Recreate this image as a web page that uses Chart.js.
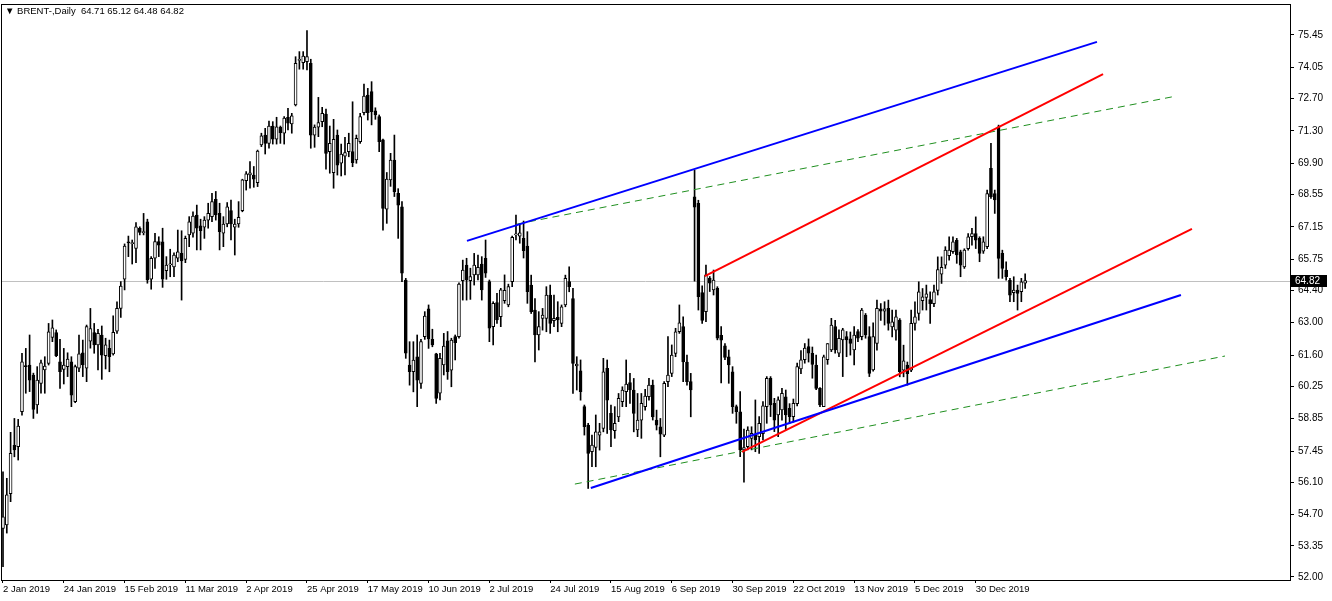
<!DOCTYPE html>
<html>
<head>
<meta charset="utf-8">
<script src="https://cdn.jsdelivr.net/npm/chart.js@4.4.1/dist/chart.umd.min.js"></script>
<style>
  html, body { margin: 0; padding: 0; background: #fff; }
  #wrap { width: 1332px; height: 601px; }
</style>
</head>
<body>
<div id="wrap"><canvas id="brent"></canvas></div>
<script>
// ---------------- data (BRENT-, Daily, 2 Jan 2019 - 17 Jan 2020) ----------------
const opens = [
  54.10,54.25,55.60,57.70,57.64,59.15,61.15,61.17,60.74,59.44, 60.38,60.96,61.24,62.37,62.57,61.31,60.98,61.10,61.31,59.58,
  61.03,61.70,61.03,62.20,62.57,62.04,62.47,61.57,61.89,61.65, 62.64,63.62,64.88,66.50,66.42,66.22,67.09,66.90,67.37,64.88,
  65.79,66.51,66.50,65.25,65.50,65.42,65.79,66.00,65.74,66.80, 66.87,67.66,67.19,67.13,67.44,67.59,68.34,67.73,66.87,67.27,
  67.85,67.13,67.27,67.85,69.15,69.39,69.39,69.06,70.69,71.12, 70.76,71.51,70.94,71.46,71.20,71.89,71.60,72.42,74.35,74.25,
  74.30,74.22,71.12,71.46,71.70,72.03,70.40,69.49,71.12,69.90, 70.21,70.40,70.40,70.04,70.83,72.09,72.85,73.00,72.17,71.92,
  70.91,67.91,69.18,70.04,68.60,68.02,64.85,61.17,60.88,61.53, 60.38,62.40,63.60,62.28,61.65,59.95,61.17,62.22,60.95,62.40,
  62.40,64.82,65.50,64.82,65.07,65.07,65.54,65.79,64.78,62.83, 63.87,63.26,63.95,63.77,64.78,66.80,66.75,66.65,66.32,64.63,
  63.55,62.47,63.19,63.19,64.20,63.09,63.23,62.97,63.77,64.78, 64.05,61.13,60.92,59.37,58.57,57.42,57.61,58.14,58.43,61.03,
  59.08,58.33,58.93,59.58,60.02,60.41,60.09,58.36,58.79,59.37, 59.80,60.30,58.79,58.50,58.14,60.45,60.81,61.67,62.61,62.83,
  61.30,60.45,68.45,68.17,64.30,63.48,64.92,64.42,64.49,62.45, 62.00,61.53,60.88,59.37,59.15,57.50,57.64,58.00,58.14,58.07,
  58.20,59.37,60.60,59.51,59.01,59.23,59.80,59.30,58.94,59.50, 61.00,61.40,61.97,61.68,61.17,60.16,59.37,61.40,61.82,62.83,
  61.68,62.26,62.40,62.30,61.82,62.62,62.40,63.33,62.40,60.96, 62.10,63.60,63.50,63.62,62.82,62.68,63.11,60.95,61.17,60.95,
  62.97,63.40,63.95,64.10,64.00,63.83,64.40,65.10,65.49,65.90, 66.07,66.57,66.07,65.42,66.21,66.72,66.86,66.65,66.10,66.29,
  69.68,68.59,71.48,66.00,65.28,64.84,64.30,64.41,64.34,64.71
];
const highs = [
  56.55,56.27,58.26,58.86,58.82,61.68,61.89,62.47,60.82,61.10, 61.39,61.53,62.97,63.12,62.69,62.28,61.89,61.70,61.53,61.17,
  62.47,62.25,62.90,63.62,62.97,62.72,62.86,62.33,62.25,63.30, 63.91,64.78,66.41,66.75,66.58,67.33,67.15,67.73,67.48,65.86,
  66.87,66.72,67.09,65.86,66.18,66.03,67.01,66.98,66.75,67.59, 67.80,68.09,67.48,67.59,68.17,68.60,68.68,68.17,67.59,68.20,
  68.31,67.48,68.24,69.21,69.54,69.97,69.76,70.47,71.20,71.41, 71.73,71.70,71.89,71.51,71.92,72.28,72.06,74.51,74.73,74.73,
  75.64,74.40,71.56,72.75,72.32,72.24,71.51,71.80,71.34,70.73, 71.02,71.20,72.56,71.12,72.06,73.33,73.14,73.43,72.30,71.99,
  70.95,69.50,70.33,71.12,68.80,68.24,64.92,62.18,62.18,62.47, 62.28,63.48,63.77,62.72,61.68,61.68,62.54,62.62,62.33,62.47,
  64.73,65.71,65.79,65.36,66.00,65.93,65.86,66.58,64.85,63.91, 64.27,64.49,65.07,64.67,66.75,67.66,67.30,67.40,66.94,65.06,
  64.05,63.48,63.62,64.56,64.63,64.20,63.91,63.77,65.06,65.42, 64.49,61.53,61.39,59.44,58.65,58.14,59.01,58.65,61.46,61.39,
  59.44,59.37,59.94,60.23,61.39,60.81,60.59,59.94,59.94,60.12, 60.59,60.52,59.22,58.86,60.45,62.40,62.04,62.76,63.77,63.26,
  61.60,60.81,69.60,68.30,64.60,65.50,65.00,65.28,64.56,62.83, 62.10,61.82,61.10,59.44,60.02,58.40,58.50,58.50,59.66,58.94,
  59.59,60.67,60.67,59.73,59.80,60.16,60.09,59.50,59.70,61.25, 61.80,62.10,62.30,61.95,61.60,60.20,61.60,62.10,63.19,63.10,
  62.69,62.76,62.62,62.60,62.83,62.70,63.62,63.40,62.83,63.00, 63.98,63.83,63.91,63.98,63.55,63.55,63.18,62.03,61.30,63.55,
  63.91,64.77,64.48,64.63,64.34,64.63,65.85,65.85,66.29,66.72, 66.72,66.65,66.14,66.20,66.86,67.08,67.58,66.72,66.72,68.74,
  70.76,68.74,71.55,66.14,65.64,64.92,64.99,64.63,64.92,65.12
];
const lows = [
  52.45,53.90,55.26,57.20,57.06,59.00,59.95,60.02,58.86,59.08, 59.95,59.95,61.17,62.18,61.53,60.16,60.35,60.67,59.37,59.54,
  60.88,60.67,60.45,61.90,61.68,60.96,60.55,61.00,60.88,61.60, 62.54,63.23,64.42,65.86,65.54,65.60,66.80,66.80,64.71,64.45,
  65.35,65.86,64.53,64.88,64.99,64.99,65.64,63.98,65.60,66.29, 66.70,66.15,66.15,66.65,67.09,67.37,67.44,66.15,66.29,67.15,
  66.58,65.93,67.13,67.80,68.74,68.82,68.86,68.89,70.62,70.30, 70.55,70.73,70.73,70.76,70.73,71.34,71.20,72.38,73.97,73.97,
  73.94,70.55,70.59,71.05,71.48,69.64,69.47,68.82,69.39,69.35, 69.39,70.18,69.75,69.90,70.76,71.99,71.77,71.56,71.80,70.40,
  67.01,67.30,68.90,68.46,66.65,64.78,61.46,60.30,60.01,59.37, 60.16,62.28,61.89,61.96,59.51,59.66,60.74,60.55,60.23,61.39,
  62.33,63.98,63.98,64.01,64.63,64.85,63.98,64.96,62.18,62.04, 62.97,62.83,63.84,63.69,64.56,66.58,66.44,65.80,63.84,63.40,
  61.31,61.82,62.68,62.61,62.54,62.83,62.61,62.83,63.69,64.34, 59.94,60.09,59.65,58.14,55.83,56.77,56.77,57.49,58.28,58.21,
  57.64,58.00,58.72,59.37,59.37,59.51,58.28,58.07,58.00,59.22, 59.65,58.79,58.36,57.20,58.07,60.23,60.67,61.53,62.54,60.45,
  60.30,58.93,64.80,63.55,62.97,63.05,64.35,64.20,62.26,60.40, 61.40,60.38,59.08,58.65,57.21,56.10,57.50,57.50,57.42,57.35,
  57.93,58.65,58.94,58.29,58.07,58.79,58.36,58.65,58.70,59.40, 60.80,61.25,61.30,60.60,60.10,59.37,59.37,61.20,61.75,61.68,
  61.53,60.67,61.53,61.60,61.17,62.18,62.26,62.33,60.67,60.90, 61.81,63.10,62.90,62.68,62.39,62.25,60.66,60.66,60.30,60.88,
  62.68,63.11,63.55,63.55,62.97,63.69,64.20,64.70,65.35,65.71, 66.00,65.57,64.99,65.35,66.14,66.36,66.21,65.64,66.00,66.21,
  68.38,67.73,64.92,64.92,64.84,63.91,63.91,63.55,63.91,64.48
];
const closes = [
  54.60,55.55,57.35,57.50,58.53,61.31,61.10,60.52,59.25,60.52, 61.27,61.13,62.61,62.78,61.57,60.88,61.17,61.43,59.87,61.10,
  61.65,61.17,62.83,62.75,62.04,62.54,61.60,62.04,61.53,62.59, 63.62,64.59,66.32,66.45,66.47,67.15,66.91,66.93,64.85,65.79,
  66.51,66.36,64.88,65.50,65.55,65.93,66.07,65.68,66.65,67.37, 67.62,67.09,66.98,67.44,67.73,68.24,67.66,66.94,67.27,68.02,
  67.27,67.27,67.56,69.18,69.44,69.49,69.21,70.43,71.09,70.76, 71.51,70.94,71.48,71.22,71.85,71.63,71.95,74.22,74.40,74.54,
  74.51,71.12,71.46,71.66,72.06,70.33,70.76,70.94,69.82,70.30, 70.36,70.76,69.93,70.98,71.92,72.81,72.09,72.13,71.99,70.83,
  67.95,69.21,70.04,68.67,68.09,65.14,61.68,60.88,61.39,60.52, 62.18,63.29,62.30,62.04,59.73,61.46,61.99,60.88,62.25,62.14,
  64.67,65.28,64.85,65.00,65.50,65.40,64.42,65.14,62.76,63.84, 63.12,64.42,64.40,64.56,66.69,66.84,66.89,66.12,64.34,63.48,
  62.47,62.83,63.33,64.20,62.97,63.19,63.12,63.69,64.92,64.56, 61.24,61.21,60.02,58.50,57.35,57.71,58.28,58.28,60.88,59.65,
  58.36,58.65,59.73,60.09,60.35,60.09,59.08,58.79,59.51,59.83, 60.30,58.93,58.57,58.18,60.38,60.74,61.60,62.61,63.00,61.31,
  60.45,60.09,68.00,64.13,63.10,65.07,64.71,64.85,62.33,62.25, 61.50,61.17,59.37,59.15,57.50,57.60,58.36,58.22,57.93,58.65,
  59.40,60.60,59.44,58.79,59.66,59.95,59.01,58.94,59.51,61.10, 61.40,61.90,61.68,61.20,60.16,59.44,61.53,62.10,62.90,61.82,
  62.33,62.69,62.26,62.10,62.47,62.33,63.55,62.47,60.81,62.40, 63.62,63.50,63.60,62.97,63.04,63.26,60.88,61.35,60.80,62.97,
  63.26,64.34,64.12,64.25,63.83,64.34,65.30,65.40,66.14,66.14, 66.50,65.93,65.49,66.14,66.72,66.86,66.57,66.00,66.50,68.59,
  68.45,68.31,65.78,65.35,64.99,64.19,64.41,64.27,64.77,64.82
];

// time axis: a date label every 16 bars
const dateLabels = ["2 Jan 2019", "24 Jan 2019", "15 Feb 2019", "11 Mar 2019", "2 Apr 2019", "25 Apr 2019",
  "17 May 2019", "10 Jun 2019", "2 Jul 2019", "24 Jul 2019", "15 Aug 2019", "6 Sep 2019", "30 Sep 2019",
  "22 Oct 2019", "13 Nov 2019", "5 Dec 2019", "30 Dec 2019"];
const barsPerLabel = 16;

// price axis labels
const priceLabels = [75.45, 74.05, 72.70, 71.30, 69.90, 68.55, 67.15, 65.75, 64.40, 63.00,
  61.60, 60.25, 58.85, 57.45, 56.10, 54.70, 53.35, 52.00];

// trend lines: [bar1, price1, bar2, price2]
const blueLines = [[122.1, 66.54, 287.9, 75.15], [154.7, 55.85, 310.0, 64.20]];
const redLines = [[184.7, 65.02, 289.5, 73.76], [194.5, 57.41, 312.9, 67.06]];
const greenLines = [[135.3, 67.27, 307.6, 72.77], [150.5, 56.02, 321.6, 61.56]];

// ---------------------------------------------------------------------------------
const FONT = { family: '"Liberation Sans", Arial, sans-serif', size: 10 };
const SMALL = { family: '"Liberation Sans", Arial, sans-serif', size: 9.5 };
const last = closes.length - 1;

const bodies = opens.map((o, i) => ({ x: i, y: [o, closes[i]] }));
const wicks = lows.map((l, i) => ({ x: i, y: [l, highs[i]] }));

function trend(seg, color, width, dash) {
  return {
    type: 'line',
    data: [{ x: seg[0], y: seg[1] }, { x: seg[2], y: seg[3] }],
    borderColor: color,
    borderWidth: width,
    borderDash: dash || [],
    pointRadius: 0,
    fill: false,
    order: 0
  };
}

const chartDecor = {
  id: 'chartDecor',
  beforeDatasetsDraw(chart) {
    const { ctx, chartArea: a, scales: { y } } = chart;
    const py = Math.round(y.getPixelForValue(closes[last])) + 0.5;
    ctx.save();
    ctx.strokeStyle = '#c0c0c0';
    ctx.lineWidth = 1;
    ctx.beginPath();
    ctx.moveTo(a.left, py);
    ctx.lineTo(a.right, py);
    ctx.stroke();
    ctx.restore();
  },
  afterDraw(chart) {
    const { ctx, chartArea: a, scales: { y } } = chart;
    ctx.save();
    ctx.strokeStyle = '#000';
    ctx.lineWidth = 1;
    ctx.strokeRect(a.left + 0.5, a.top + 0.5, a.right - a.left, a.bottom - a.top);

    ctx.font = SMALL.size + 'px ' + SMALL.family;
    ctx.textBaseline = 'middle';
    ctx.fillStyle = '#000';
    const head = [opens[last], highs[last], lows[last], closes[last]].map(v => v.toFixed(2)).join(' ');
    ctx.fillText('\u25BC BRENT-,Daily  ' + head, a.left + 4, a.top + 7);

    ctx.font = FONT.size + 'px ' + FONT.family;
    const py = Math.round(y.getPixelForValue(closes[last]));
    ctx.fillRect(a.right + 1, py - 6, 36, 12);
    ctx.fillStyle = '#fff';
    ctx.fillText(closes[last].toFixed(2), a.right + 5, py);
    ctx.restore();
  }
};

new Chart(document.getElementById('brent'), {
  type: 'bar',
  data: {
    datasets: [
      trend(blueLines[0], '#0000ff', 2),
      trend(blueLines[1], '#0000ff', 2),
      trend(redLines[0], '#ff0000', 2),
      trend(redLines[1], '#ff0000', 2),
      trend(greenLines[0], '#1f8f1f', 1, [7, 5]),
      trend(greenLines[1], '#1f8f1f', 1, [7, 5]),
      {
        label: 'body',
        data: bodies,
        backgroundColor: opens.map((o, i) => closes[i] >= o ? '#ffffff' : '#000000'),
        borderColor: '#000000',
        borderWidth: 1,
        borderSkipped: false,
        barThickness: 3,
        minBarLength: 1,
        grouped: false,
        order: 1
      },
      {
        label: 'wick',
        data: wicks,
        backgroundColor: '#000000',
        barThickness: 1,
        grouped: false,
        order: 2
      }
    ]
  },
  options: {
    responsive: true,
    maintainAspectRatio: false,
    animation: false,
    layout: { padding: { left: 1, top: 4, right: 0, bottom: 0 } },
    plugins: {
      legend: { display: false },
      tooltip: { enabled: false },
      title: { display: false }
    },
    scales: {
      x: {
        type: 'linear',
        offset: false,
        min: -0.526,
        max: 338.7,
        position: 'bottom',
        afterBuildTicks: s => { s.ticks = dateLabels.map((_, k) => ({ value: k * barsPerLabel })); },
        afterFit: s => { s.height = 21; s.paddingLeft = 0; s.paddingRight = 0; },
        ticks: {
          autoSkip: false,
          maxRotation: 0,
          align: 'start',
          padding: 1,
          color: '#000',
          font: SMALL,
          callback: v => dateLabels[Math.round(v / barsPerLabel)] || ''
        },
        grid: { drawOnChartArea: false, drawTicks: true, tickLength: 3, color: '#000', offset: false },
        border: { color: '#000' }
      },
      y: {
        position: 'right',
        min: 51.87,
        max: 76.79,
        afterBuildTicks: s => { s.ticks = priceLabels.map(v => ({ value: v })); },
        afterFit: s => { s.width = 42; s.paddingTop = 0; s.paddingBottom = 0; },
        ticks: {
          padding: 4,
          color: '#000',
          font: FONT,
          callback: v => Number(v).toFixed(2)
        },
        grid: { drawOnChartArea: false, drawTicks: true, tickLength: 4, color: '#000' },
        border: { color: '#000' }
      }
    }
  },
  plugins: [chartDecor]
});
</script>
</body>
</html>
